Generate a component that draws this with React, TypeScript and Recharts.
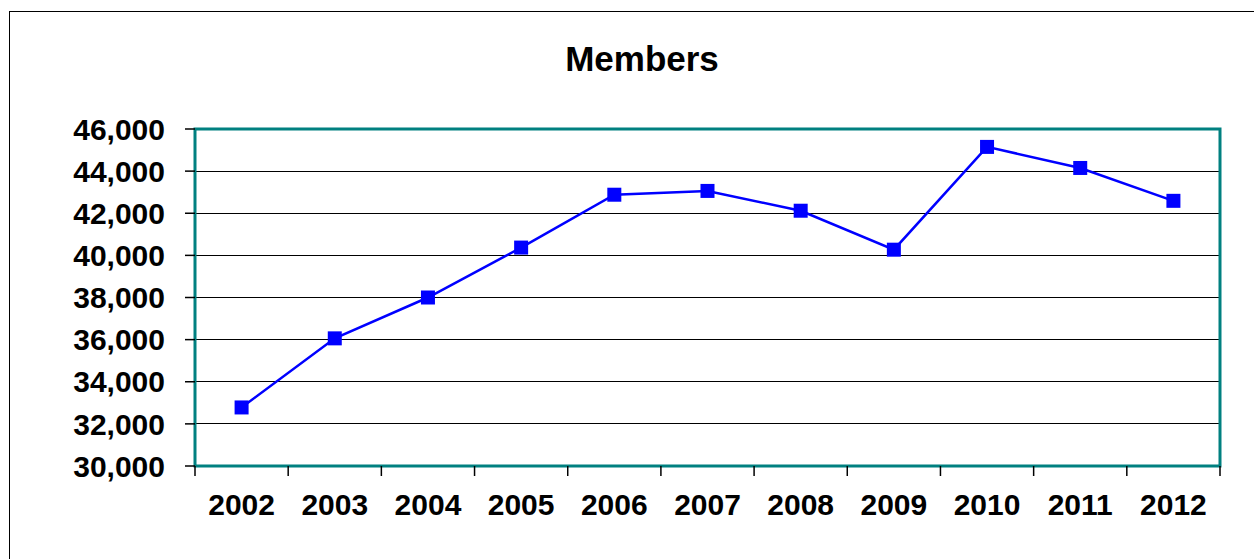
import React from 'react';
import { LineChart, Line, XAxis, YAxis, CartesianGrid, ReferenceArea } from 'recharts';

const years = ['2002', '2003', '2004', '2005', '2006', '2007', '2008', '2009', '2010', '2011', '2012'];
const members = [32780, 36060, 38000, 40370, 42880, 43060, 42120, 40270, 45150, 44150, 42590];
const yTicks = [30000, 32000, 34000, 36000, 38000, 40000, 42000, 44000, 46000];

const data = years.map((year, i) => ({ idx: i, year, members: members[i] }));

// ticks at band boundaries carry the tick marks, integers carry the labels
const xTicks: number[] = [];
for (let i = -0.5; i <= years.length - 0.5; i += 0.5) xTicks.push(i);

const FONT = '"Liberation Sans", Arial, sans-serif';

const XTick = (props: any) => {
  const { x, y, payload } = props;
  const v = payload.value;
  if (Number.isInteger(v)) {
    return (
      <text x={x} y={y + 49} textAnchor="middle" fontFamily={FONT} fontWeight="bold" fontSize={30} fill="#000">
        {years[v]}
      </text>
    );
  }
  return <line x1={x} y1={y} x2={x} y2={y + 10} stroke="#000" strokeWidth={1.5} />;
};

const SquareDot = (props: any) => {
  const { cx, cy, index } = props;
  return <rect key={`dot-${index}`} x={cx - 7} y={cy - 7} width={14} height={14} fill="#0000FF" />;
};

const App: React.FC = () => {
  return (
    <div style={{ position: 'absolute', left: 0, top: 0, width: 1254, height: 559, background: '#fff' }}>
      <div
        style={{
          position: 'absolute',
          left: 9,
          top: 11,
          right: -2,
          bottom: -2,
          borderLeft: '1.5px solid #000',
          borderTop: '1.5px solid #000',
        }}
      />
      <div
        style={{
          position: 'absolute',
          left: 0,
          width: 1284,
          top: 39,
          textAlign: 'center',
          fontFamily: FONT,
          fontWeight: 'bold',
          fontSize: 35,
          color: '#000',
        }}
      >
        Members
      </div>
      <div style={{ position: 'absolute', left: 0, top: 0 }}>
        <LineChart width={1254} height={559} data={data} margin={{ top: 129, right: 34, bottom: 0, left: 0 }}>
          <CartesianGrid vertical={false} stroke="#000" strokeWidth={1} shapeRendering="crispEdges" />
          <ReferenceArea
            x1={-0.5}
            x2={years.length - 0.5}
            y1={30000}
            y2={46000}
            stroke="#008080"
            strokeWidth={3}
            fill="none"
            fillOpacity={0}
            ifOverflow="visible"
          />
          <XAxis
            dataKey="idx"
            type="number"
            domain={[-0.5, years.length - 0.5]}
            ticks={xTicks}
            interval={0}
            height={93}
            axisLine={false}
            tickLine={false}
            tickSize={0}
            tickMargin={0}
            tick={<XTick />}
          />
          <YAxis
            domain={[30000, 46000]}
            ticks={yTicks}
            interval={0}
            width={195}
            axisLine={false}
            tickSize={10}
            tickMargin={20}
            tickLine={{ stroke: '#000', strokeWidth: 1.5 }}
            tickFormatter={(v: number) => v.toLocaleString('en-US')}
            tick={{ fontFamily: FONT, fontWeight: 'bold', fontSize: 30, fill: '#000' }}
          />
          <Line
            dataKey="members"
            stroke="#0000FF"
            strokeWidth={2.5}
            dot={SquareDot}
            activeDot={false}
            isAnimationActive={false}
          />
        </LineChart>
      </div>
    </div>
  );
};

export default App;
